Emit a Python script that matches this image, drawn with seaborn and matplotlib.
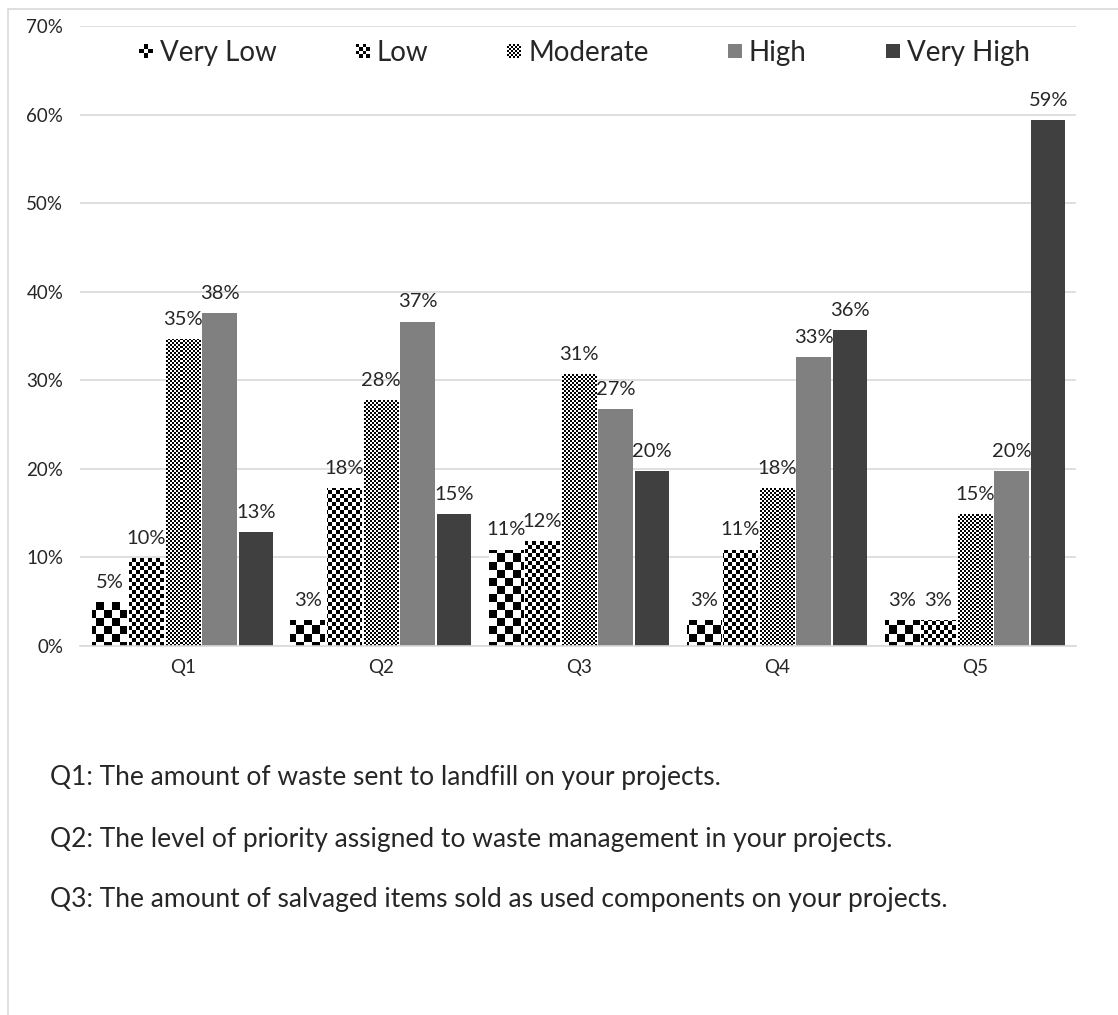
import numpy as np
import pandas as pd
import matplotlib
matplotlib.use("Agg")
import matplotlib.pyplot as plt
import seaborn as sns
from matplotlib.patches import Rectangle, Patch
from matplotlib.legend_handler import HandlerBase
from matplotlib.lines import Line2D

# Survey results: share of respondents (%) per rating level
questions = ["Q1", "Q2", "Q3", "Q4", "Q5"]
levels = ["Very Low", "Low", "Moderate", "High", "Very High"]
very_low = [4.95, 2.97, 10.89, 2.97, 2.97]
low = [9.90, 17.82, 11.88, 10.89, 2.97]
moderate = [34.65, 27.72, 30.69, 17.82, 14.85]
high = [37.62, 36.63, 26.73, 32.67, 19.80]
very_high = [12.87, 14.85, 19.80, 35.64, 59.41]

notes = [
    "Q1: The amount of waste sent to landfill on your projects.",
    "Q2: The level of priority assigned to waste management in your projects.",
    "Q3: The amount of salvaged items sold as used components on your projects.",
]
y_ticks = [0, 10, 20, 30, 40, 50, 60, 70]

series = [very_low, low, moderate, high, very_high]
df = pd.DataFrame(
    [(q, lvl, vals[i]) for lvl, vals in zip(levels, series) for i, q in enumerate(questions)],
    columns=["question", "level", "pct"],
)

sns.set_theme(style="white")
plt.rcParams["font.family"] = ["Lato", "DejaVu Sans"]

W, H = 1118, 1015
fig = plt.figure(figsize=(W / 100, H / 100), dpi=100)
ax_l, ax_r, ax_t, ax_b = 80, 1076, 26, 646
ax = fig.add_axes([ax_l / W, (H - ax_b) / H, (ax_r - ax_l) / W, (ax_b - ax_t) / H])

palette = {"Very Low": "white", "Low": "white", "Moderate": "white",
           "High": "#808080", "Very High": "#404040"}
sns.barplot(data=df, x="question", y="pct", hue="level", order=questions,
            hue_order=levels, palette=palette, width=0.925, gap=0.06,
            saturation=1, linewidth=0, legend=False, ax=ax)

xlim = (-0.52, 4.51)
ylim = (0, 70)
ax.set_xlim(*xlim)
ax.set_ylim(*ylim)

# Checkerboard fills for the three lower levels (cell size in screen pixels);
# the image has one array pixel per screen pixel of the axes area.
cells = {"Very Low": 8, "Low": 4, "Moderate": 2}
ax_w_px, ax_h_px = ax_r - ax_l, ax_b - ax_t
rows, cols = np.indices((ax_h_px, ax_w_px))

for k, lvl in enumerate(levels):
    if lvl not in cells:
        continue
    c = cells[lvl]
    img = ((rows // c + cols // c) % 2).astype(float)
    for bar in ax.containers[k]:
        im = ax.imshow(img, cmap="gray", vmin=0, vmax=1,
                       extent=[xlim[0], xlim[1], ylim[0], ylim[1]], origin="upper",
                       interpolation="none", aspect="auto", zorder=bar.get_zorder() + 0.1)
        im.set_clip_path(bar)

ax.set_xlim(*xlim)
ax.set_ylim(*ylim)

# Value labels above each bar
for k, lvl in enumerate(levels):
    for bar, v in zip(ax.containers[k], series[k]):
        ax.annotate(f"{v:.0f}%", (bar.get_x() + bar.get_width() / 2, bar.get_height()),
                    xytext=(0, 8), textcoords="offset points", ha="center", va="bottom",
                    fontsize=14.5, color="#262626", zorder=5)

ax.set_yticks(y_ticks)
ax.set_yticklabels([f"{t}%" for t in y_ticks], fontsize=13.5, color="#262626")
ax.tick_params(axis="y", length=0, pad=12)
ax.tick_params(axis="x", length=0, pad=9, labelsize=13.5, labelcolor="#262626")
ax.set_xlabel("")
ax.set_ylabel("")
ax.yaxis.grid(True, color="#d9d9d9", linewidth=1.2)
ax.set_axisbelow(True)
for s in ["left", "right", "top"]:
    ax.spines[s].set_visible(False)
ax.spines["bottom"].set_color("#d9d9d9")
ax.spines["bottom"].set_linewidth(1.2)


class CheckerHandler(HandlerBase):
    def __init__(self, n):
        super().__init__()
        self.n = n

    def create_artists(self, legend, orig_handle, xdescent, ydescent, width, height, fontsize, trans):
        size = height * 0.8
        x0 = -xdescent + width - size
        y0 = -ydescent + (height - size) / 2
        c = size / self.n
        arts = [Rectangle((x0, y0), size, size, facecolor="white", edgecolor="none", transform=trans)]
        for i in range(self.n):
            for j in range(self.n):
                if (i + j) % 2 == 1:
                    arts.append(Rectangle((x0 + j * c, y0 + i * c), c, c,
                                          facecolor="black", edgecolor="none", transform=trans))
        return arts


class SquareHandler(HandlerBase):
    def create_artists(self, legend, orig_handle, xdescent, ydescent, width, height, fontsize, trans):
        size = height * 0.8
        x0 = -xdescent + width - size
        y0 = -ydescent + (height - size) / 2
        return [Rectangle((x0, y0), size, size, facecolor=orig_handle.get_facecolor(),
                          edgecolor="none", transform=trans)]


handles = [Patch(facecolor=palette[l], label=l) for l in levels]
hmap = {handles[0]: CheckerHandler(3), handles[1]: CheckerHandler(4),
        handles[2]: CheckerHandler(7), handles[3]: SquareHandler(), handles[4]: SquareHandler()}
ax.legend(handles=handles, labels=levels, handler_map=hmap, loc="center",
          bbox_to_anchor=(0.505, 0.957), ncol=5, frameon=False, fontsize=20,
          handlelength=0.6, handleheight=0.6, handletextpad=0.25, columnspacing=2.75,
          labelcolor="#262626")

# Question descriptions below the chart
for i, txt in enumerate(notes):
    fig.text(50 / W, 1 - (778 + i * 61) / H, txt, fontsize=19, color="#262626",
             va="center", ha="left")

# Light frame along the top and left edge
fig.add_artist(Line2D([8 / W, 1], [1 - 9 / H, 1 - 9 / H], color="#d9d9d9", lw=1.2,
                      transform=fig.transFigure))
fig.add_artist(Line2D([8 / W, 8 / W], [0, 1 - 9 / H], color="#d9d9d9", lw=1.2,
                      transform=fig.transFigure))

fig.savefig("out.png", dpi=100, facecolor="white")
